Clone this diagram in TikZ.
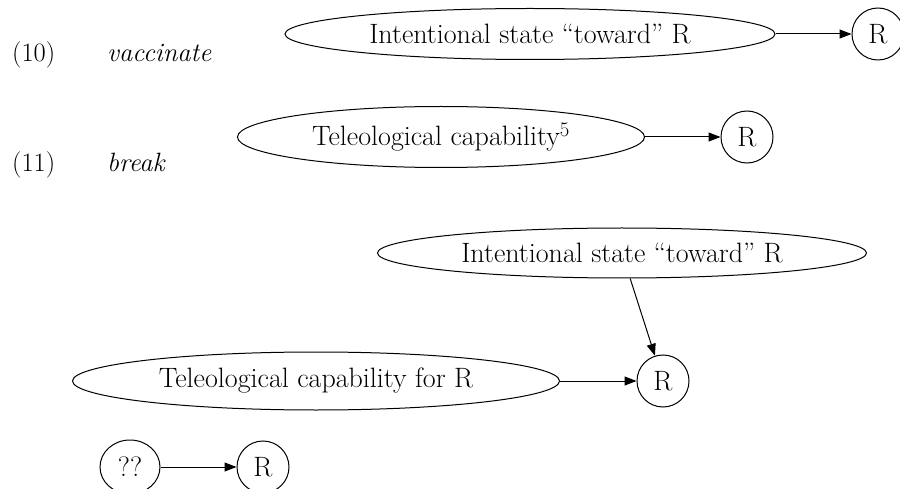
\documentclass[tikz,border=0pt]{standalone}
\usetikzlibrary{shapes.geometric,arrows.meta}
\begin{document}
\begin{tikzpicture}[x=1pt,y=-1pt,
  every node/.style={font=\fontsize{28}{33}\selectfont, inner sep=0pt},
  ell/.style={draw, ellipse, line width=1pt},
  circ/.style={draw, circle, minimum size=52pt, line width=1pt},
  conn/.style={-{Triangle[length=12pt,width=9pt]}, line width=1pt},
  lab/.style={anchor=base west, font=\fontsize{26.5}{31}\selectfont}]
\useasboundingbox (0,0) rectangle (900,489);
% row (10)
\node[lab] (n10) at (12,62) {(10)};
\node[lab] (v10) at (107,62) {\itshape vaccinate};
\node[ell, minimum width=490pt, minimum height=51pt] (is1) at (530,34) {Intentional state ``toward'' R};
\node[circ] (r1) at (878,34) {R};
\draw[conn] (is1) -- (r1);
% row (11)
\node[lab] (n11) at (12,172) {(11)};
\node[lab] (v11) at (107,172) {\itshape break};
\node[ell, minimum width=407pt, minimum height=61pt] (tc1) at (441,137) {Teleological capability$^5$};
\node[circ] (r2) at (747,137) {R};
\draw[conn] (tc1) -- (r2);
% combined
\node[ell, minimum width=489pt, minimum height=50pt] (is2) at (622,253) {Intentional state ``toward'' R};
\node[ell, minimum width=487pt, minimum height=58pt] (tc2) at (316,381) {Teleological capability for R};
\node[circ] (r3) at (663,381) {R};
\draw[conn] (is2) -- (r3);
\draw[conn] (tc2) -- (r3);
% ?? -> R
\node[draw, ellipse, minimum width=60pt, minimum height=54pt, line width=1pt] (q) at (130,467) {??};
\node[circ] (r4) at (263,467) {R};
\draw[conn] (q) -- (r4);
\end{tikzpicture}
\end{document}
